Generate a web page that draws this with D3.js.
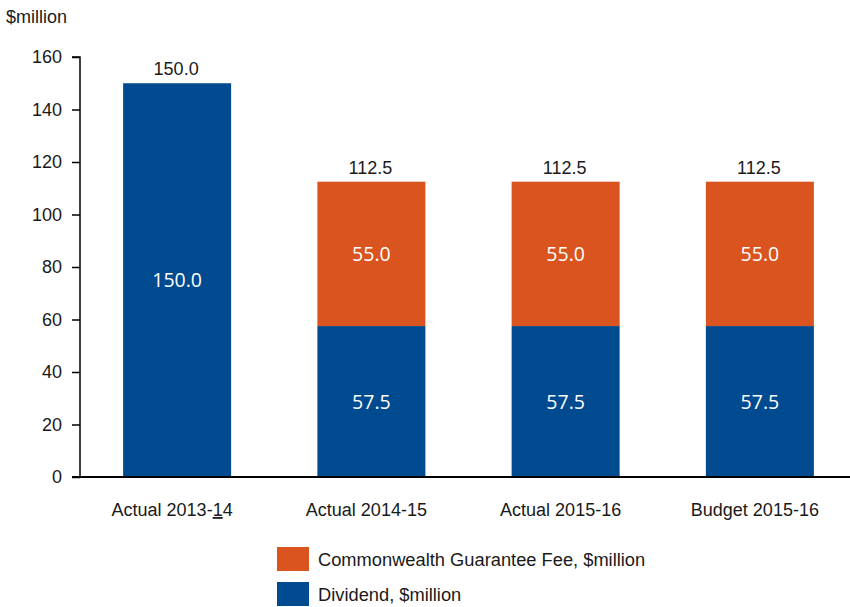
<!DOCTYPE html>
<html>
<head>
<meta charset="utf-8">
<script src="https://cdn.jsdelivr.net/npm/d3@7"></script>
<style>
  html, body { margin: 0; padding: 0; background: #fff; }
  svg { display: block; font-family: "Liberation Sans", Arial, sans-serif; }
</style>
</head>
<body>
<svg id="chart" width="850" height="607"></svg>
<script>
// Payments to government by year, $million
const categories = ["Actual 2013-14", "Actual 2014-15", "Actual 2015-16", "Budget 2015-16"];
const dividend = [150.0, 57.5, 57.5, 57.5];
const guaranteeFee = [0, 55.0, 55.0, 55.0];
const totals = [150.0, 112.5, 112.5, 112.5];
const yTicks = [0, 20, 40, 60, 80, 100, 120, 140, 160];
const seriesNames = ["Commonwealth Guarantee Fee, $million", "Dividend, $million"];

const colors = { dividend: "#004A8F", fee: "#D9541F" };

const svg = d3.select("#chart");
const x0 = 80, yBase = 477, yTop = 57;

const x = d3.scaleBand()
  .domain(categories)
  .range([x0, 857])
  .paddingInner(0.444)
  .paddingOuter(0.222);

const y = d3.scaleLinear().domain([0, 160]).range([yBase, yTop]);

// Stacked data: dividend at the bottom, guarantee fee on top
const rows = categories.map((c, i) => ({ cat: c, dividend: dividend[i], fee: guaranteeFee[i], total: totals[i] }));
const stack = d3.stack().keys(["dividend", "fee"])(rows);

const g = svg.append("g");
stack.forEach(layer => {
  g.selectAll(null)
    .data(layer.filter(d => d[1] - d[0] > 0))
    .join("rect")
    .attr("x", d => x(d.data.cat))
    .attr("width", x.bandwidth())
    .attr("y", d => y(d[1]))
    .attr("height", d => y(d[0]) - y(d[1]))
    .attr("fill", layer.key === "dividend" ? colors.dividend : colors.fee);

  // Segment value labels
  g.selectAll(null)
    .data(layer.filter(d => d[1] - d[0] > 0))
    .join("text")
    .attr("x", d => x(d.data.cat) + x.bandwidth() / 2)
    .attr("y", d => (y(d[0]) + y(d[1])) / 2)
    .attr("dy", "0.36em")
    .attr("text-anchor", "middle")
    .attr("fill", "#fff")
    .attr("font-family", "'Open Sans', sans-serif")
    .attr("font-size", 19.5)
    .text(d => (d[1] - d[0]).toFixed(1));
});

// Totals above bars
g.selectAll(null)
  .data(rows)
  .join("text")
  .attr("x", d => x(d.cat) + x.bandwidth() / 2 - 1)
  .attr("y", d => y(d.total) - 8)
  .attr("text-anchor", "middle")
  .attr("fill", "#1a1a1a")
  .attr("font-size", 18)
  .text(d => d.total.toFixed(1));

// Y axis
const yAxis = d3.axisLeft(y).tickValues(yTicks).tickSize(8).tickPadding(10);
const ya = svg.append("g").attr("transform", `translate(${x0},0)`).call(yAxis);
ya.select(".domain").attr("stroke", "#000").attr("stroke-width", 1.5).attr("d", `M-8,${yTop}H0V${yBase}`);
ya.selectAll(".tick line").attr("stroke", "#000").attr("stroke-width", 1.5);
ya.selectAll(".tick text").attr("font-size", 18).attr("fill", "#1a1a1a").attr("font-family", "Liberation Sans, Arial, sans-serif");

// X axis baseline
svg.append("line")
  .attr("x1", x0 - 8).attr("x2", 850)
  .attr("y1", yBase).attr("y2", yBase)
  .attr("stroke", "#000").attr("stroke-width", 1.8);

// Category labels
const catText = svg.append("g").selectAll(null)
  .data(categories)
  .join("text")
  .attr("x", d => x(d) + x.bandwidth() / 2 - 5)
  .attr("y", 516)
  .attr("text-anchor", "middle")
  .attr("font-size", 18)
  .attr("fill", "#1a1a1a");
catText.each(function(d, i) {
  const t = d3.select(this);
  if (i === 0) {
    t.append("tspan").text("Actual 2013-");
    t.append("tspan").attr("text-decoration", "underline").text("1");
    t.append("tspan").text("4");
  } else {
    t.text(d);
  }
});

// Unit label
svg.append("text")
  .attr("x", 6).attr("y", 23)
  .attr("font-size", 18).attr("fill", "#1a1a1a")
  .text("$million");

// Legend
const legend = svg.append("g");
const legendItems = [
  { name: seriesNames[0], color: colors.fee, y: 547 },
  { name: seriesNames[1], color: colors.dividend, y: 582 }
];
legendItems.forEach(it => {
  legend.append("rect").attr("x", 277).attr("y", it.y).attr("width", 32).attr("height", 24).attr("fill", it.color);
  legend.append("text").attr("x", 318).attr("y", it.y + 19)
    .attr("font-size", 18.3).attr("fill", "#1a1a1a").text(it.name);
});
</script>
</body>
</html>
